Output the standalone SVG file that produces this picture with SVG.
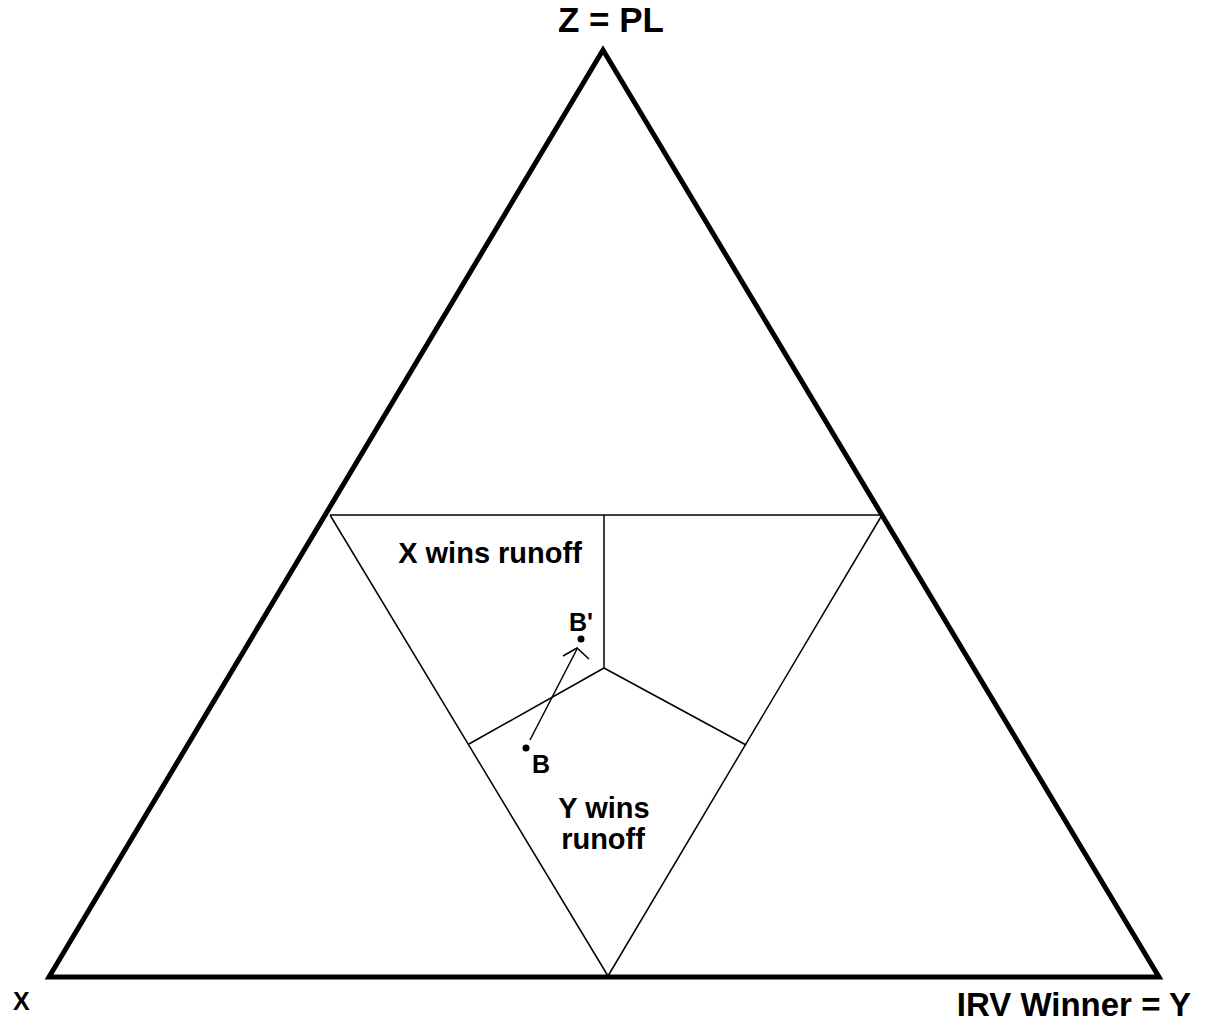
<svg xmlns="http://www.w3.org/2000/svg" width="1205" height="1024" viewBox="0 0 1205 1024">
<style>
.thick{fill:none;stroke:#000;stroke-width:5;stroke-linejoin:miter}
.thin{fill:none;stroke:#000;stroke-width:1.5}
.lbl{font-family:"Liberation Sans",Arial,sans-serif;font-weight:bold;fill:#000}
</style>
<rect width="1205" height="1024" fill="#fff"/>
<g id="triangle">
<polygon class="thick" points="603,50 49,977 1159,977"/>
</g>
<g id="connectors">
<line class="thin" x1="330" y1="515" x2="882" y2="515"/>
<line class="thin" x1="330" y1="515" x2="608" y2="976"/>
<line class="thin" x1="882" y1="515" x2="608" y2="976"/>
<line class="thin" x1="604" y1="515" x2="604" y2="668"/>
<line class="thin" x1="604" y1="668" x2="469" y2="744"/>
<line class="thin" x1="604" y1="668" x2="746" y2="745"/>
<line class="thin" x1="530" y1="740" x2="577" y2="649"/>
<polyline class="thin" points="563,656 577,648 589,659"/>
</g>
<g id="node-B">
<circle cx="526" cy="748" r="3.5" fill="#000"/>
<text class="lbl" x="532" y="773" font-size="25">B</text>
</g>
<g id="node-Bprime">
<circle cx="581" cy="639" r="3.5" fill="#000"/>
<text class="lbl" x="569" y="631" font-size="25">B'</text>
</g>
<g id="labels">
<text class="lbl" x="611" y="32" font-size="35" text-anchor="middle">Z = PL</text>
<text class="lbl" x="13" y="1010" font-size="25">X</text>
<text class="lbl" x="1191" y="1016" font-size="33" text-anchor="end">IRV Winner = Y</text>
<text class="lbl" x="490" y="563" font-size="29" text-anchor="middle">X wins runoff</text>
<text class="lbl" x="604" y="818" font-size="29" text-anchor="middle">Y wins</text>
<text class="lbl" x="603" y="849" font-size="29" text-anchor="middle">runoff</text>
</g>
</svg>
